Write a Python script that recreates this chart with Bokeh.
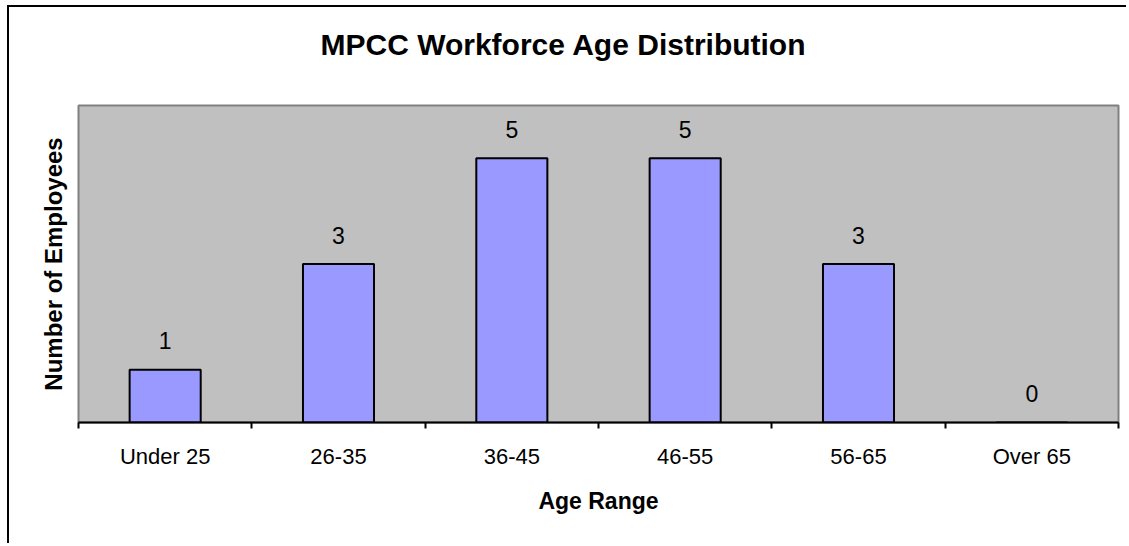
from bokeh.plotting import figure
from bokeh.models import FixedTicker, Range1d, ColumnDataSource, Title
from bokeh.core.properties import value
from bokeh.embed import file_html
from bokeh.resources import INLINE

categories = ["Under 25", "26-35", "36-45", "46-55", "56-65", "Over 65"]
employees = [1, 3, 5, 5, 3, 0]
title_text = "MPCC Workforce Age Distribution"
x_label = "Age Range"
y_label = "Number of Employees"
y_max = 6

FONT = "Liberation Sans"
W, H = 1119, 538

xpos = [i + 0.5 for i in range(len(categories))]
src = ColumnDataSource(dict(x=xpos, top=employees, label=[str(v) for v in employees]))

p = figure(width=W, height=H,
           x_range=Range1d(0, len(categories)), y_range=Range1d(0, y_max),
           output_backend="svg", toolbar_location=None,
           min_border_left=69, min_border_right=10,
           min_border_top=98, min_border_bottom=123)
p.title = None
p.styles = {"border-left": "2px solid black", "border-top": "2px solid black",
            "margin-top": "5px", "margin-left": "7px"}

p.background_fill_color = "#C0C0C0"
p.border_fill_color = "white"
p.outline_line_color = "#808080"
p.outline_line_width = 2
p.xgrid.visible = False
p.ygrid.visible = False

p.vbar(x="x", top="top", bottom=0, width=0.41, source=src,
       fill_color="#9999FF", line_color="black", line_width=2)
p.text(x="x", y="top", text="label", source=src, text_align="center",
       text_baseline="alphabetic", y_offset=-29,
       text_font=value(FONT), text_font_size="23px", text_color="black")

# spacer between frame and title, then the title itself
spacer = Title(text=" ", text_font_size="30px", standoff=10)
p.add_layout(spacer, "above")
main_title = Title(text=title_text, align="left", offset=242, standoff=0,
                   text_font=FONT, text_font_size="30px", text_font_style="bold",
                   text_color="black")
p.add_layout(main_title, "above")

xa = p.xaxis[0]
xa.ticker = FixedTicker(ticks=xpos, minor_ticks=list(range(len(categories) + 1)))
xa.major_label_overrides = {x: c for x, c in zip(xpos, categories)}
xa.major_tick_line_color = None
xa.minor_tick_line_color = "black"
xa.minor_tick_line_width = 2
xa.minor_tick_out = 6
xa.minor_tick_in = 0
xa.axis_line_color = "black"
xa.axis_line_width = 2
xa.major_label_standoff = 15
xa.major_label_text_font = FONT
xa.major_label_text_font_size = "22px"
xa.major_label_text_color = "black"
xa.axis_label = x_label
xa.axis_label_text_font = FONT
xa.axis_label_text_font_size = "23px"
xa.axis_label_text_font_style = "bold"
xa.axis_label_text_color = "black"
xa.axis_label_standoff = 16

ya = p.yaxis[0]
ya.ticker = FixedTicker(ticks=[])
ya.axis_line_color = None
ya.major_tick_line_color = None
ya.minor_tick_line_color = None
ya.axis_label = y_label
ya.axis_label_text_font = FONT
ya.axis_label_text_font_size = "24px"
ya.axis_label_text_font_style = "bold"
ya.axis_label_text_color = "black"
ya.axis_label_standoff = 12

open("out.html", "w").write(file_html(p, INLINE))
